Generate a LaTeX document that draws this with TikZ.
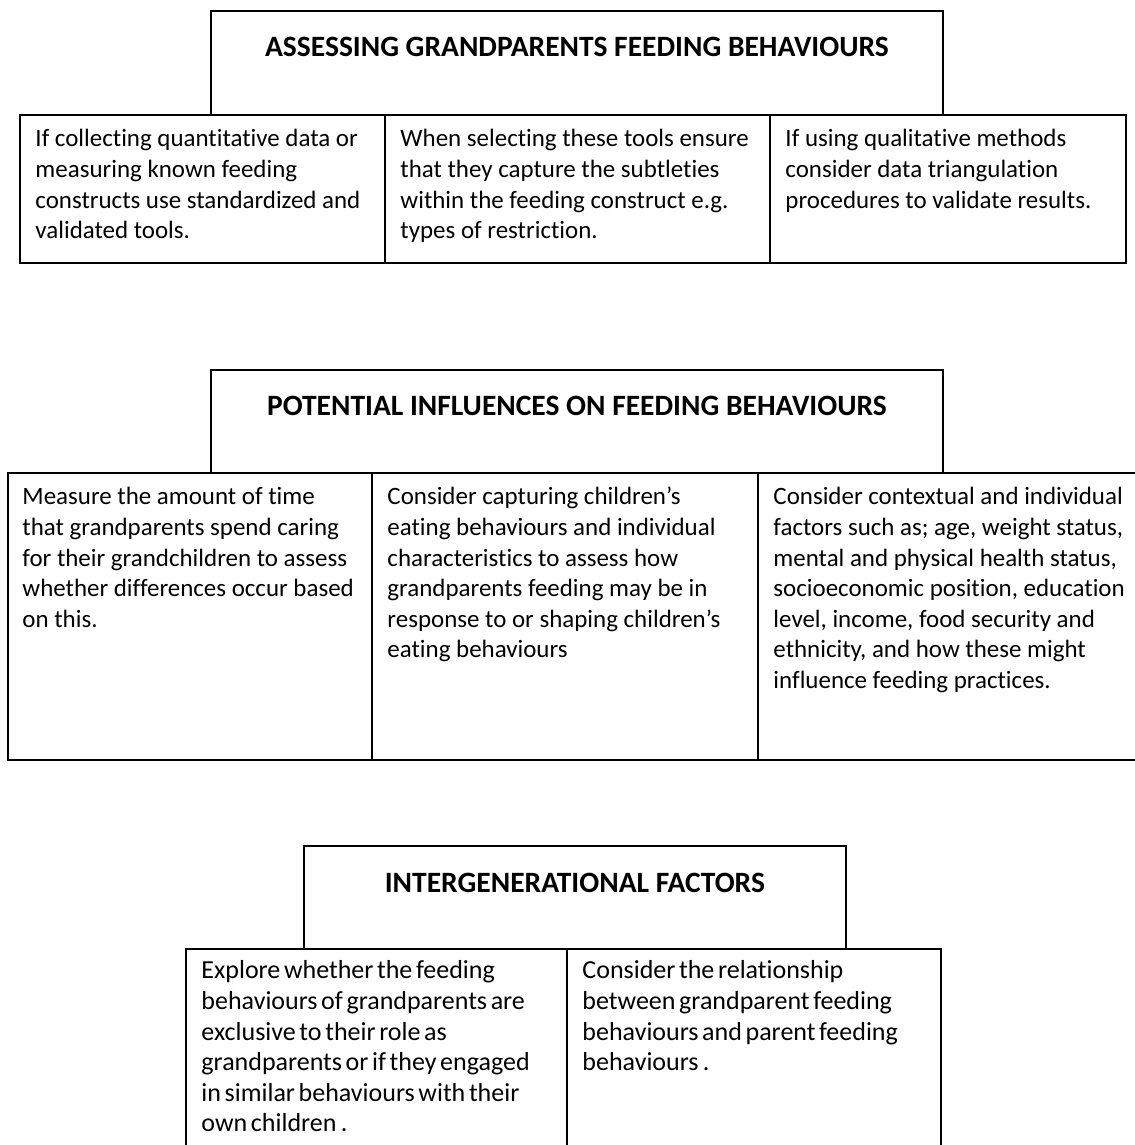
\documentclass[tikz,border=0pt]{standalone}
\usepackage{fontspec}
\setmainfont{Carlito}[Ligatures=NoCommon]
\usepackage{tikz}

\begin{document}
\begin{tikzpicture}[x=0.02cm,y=-0.02cm,
		hdr/.style={draw,line width=1.1pt,anchor=north west,inner sep=0pt,align=center,font=\bfseries\fontsize{16.8}{20}\selectfont},
		cell/.style={draw,line width=1.1pt,anchor=north west,inner xsep=0.31cm,inner ysep=0pt,align=flush left,font=\fontsize{14.2}{17.4}\selectfont},
		tight/.style={font=\fontsize{14.8}{17.4}\selectfont,execute at begin node={\spaceskip=0.14em plus 0.05em\relax}}]
		\useasboundingbox (0,0) rectangle (1134,1145);
		\node (hdrA) at (210,10) [hdr,minimum width=14.64cm,text height=0.92cm,text depth=1.16cm] {ASSESSING GRANDPARENTS FEEDING BEHAVIOURS};
		\node (a1) at (19,114) [cell,text width=6.68cm,text height=0.64cm,text depth=2.32cm] {If collecting quantitative data or\\measuring known feeding\\constructs use standardized and\\validated tools.};
		\node (a2) at (384,114) [cell,text width=7.08cm,text height=0.64cm,text depth=2.32cm] {When selecting these tools ensure\\that they capture the subtleties\\within the feeding construct e.g.\\types of restriction.};
		\node (a3) at (769,114) [cell,text width=6.50cm,text height=0.64cm,text depth=2.32cm] {If using qualitative methods\\consider data triangulation\\procedures to validate results.};
		\node (hdrB) at (210,369) [hdr,minimum width=14.64cm,text height=0.92cm,text depth=1.14cm] {POTENTIAL INFLUENCES ON FEEDING BEHAVIOURS};
		\node (b1) at (7,472) [cell,inner xsep=0.29cm,text width=6.70cm,text height=0.64cm,text depth=5.10cm] {Measure the amount of time\\that grandparents spend caring\\for their grandchildren to assess\\whether differences occur based\\on this.};
		\node (b2) at (371,472) [cell,text width=7.10cm,text height=0.64cm,text depth=5.10cm] {Consider capturing children’s\\eating behaviours and individual\\characteristics to assess how\\grandparents feeding may be in\\response to or shaping children’s\\eating behaviours};
		\node (b3) at (757,472) [cell,text width=7.40cm,text height=0.64cm,text depth=5.10cm] {Consider contextual and individual\\factors such as; age, weight status,\\mental and physical health status,\\socioeconomic position, education\\level, income, food security and\\ethnicity, and how these might\\influence feeding practices.};
		\node (hdrC) at (303,845) [hdr,minimum width=10.84cm,text height=0.94cm,text depth=1.12cm] {INTERGENERATIONAL FACTORS};
		\node (c1) at (185,948) [cell,tight,text width=7.00cm,text height=0.60cm,text depth=3.60cm] {Explore whether the feeding\\behaviours of grandparents are\\exclusive to their role as\\grandparents or if they engaged\\in similar behaviours with their\\own children\,.};
		\node (c2) at (566,948) [cell,tight,text width=6.86cm,text height=0.60cm,text depth=3.60cm] {Consider the relationship\\between grandparent feeding\\behaviours and parent feeding\\behaviours\,.};
\end{tikzpicture}
\end{document}
